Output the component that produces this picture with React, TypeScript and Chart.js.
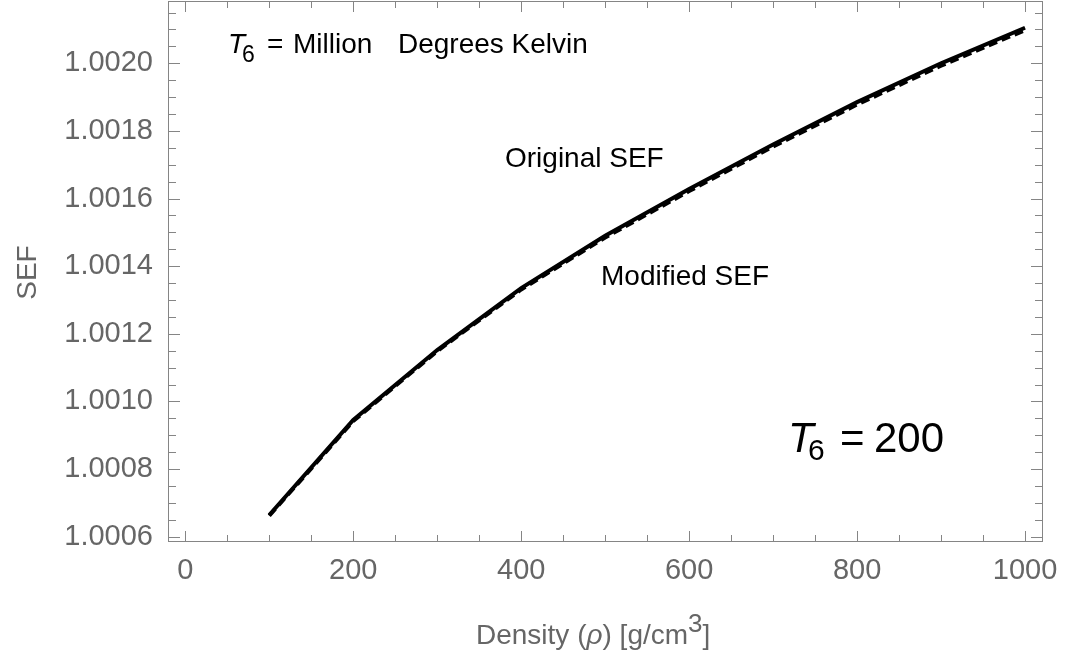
import React, { useEffect, useRef } from "react";
import { Chart, registerables } from "chart.js";

Chart.register(...registerables);

// ---- data ----
const densities = [100, 200, 300, 400, 500, 600, 700, 800, 900, 1000];
const originalSEF = [1.000664, 1.000945, 1.001152, 1.001335, 1.00149, 1.001628, 1.00176, 1.001885, 1.002, 1.002105];
const modifiedSEF = [1.000662, 1.000942, 1.001149, 1.001331, 1.001485, 1.001622, 1.001754, 1.001878, 1.001993, 1.002098];
const xTickValues = [0, 200, 400, 600, 800, 1000];
const yTickValues = [1.0006, 1.0008, 1.001, 1.0012, 1.0014, 1.0016, 1.0018, 1.002];
const xMinorStep = 50;
const yMinorStep = 0.00005;
const xMin = -20.6;
const xMax = 1021.4;
const yMin = 1.0005843;
const yMax = 1.0021842;

const FONT = '"Liberation Sans", Arial, Helvetica, sans-serif';
const FRAME = "#858585";
const LABEL = "#666666";

type Seg = { text: string; font: string; dy?: number; x?: number };

function drawChain(ctx: CanvasRenderingContext2D, segs: Seg[], x0: number, y0: number, color: string) {
  let x = x0;
  ctx.fillStyle = color;
  ctx.textAlign = "left";
  ctx.textBaseline = "alphabetic";
  for (const s of segs) {
    ctx.font = s.font;
    if (s.x !== undefined) x = s.x;
    ctx.fillText(s.text, x, y0 + (s.dy || 0));
    x += ctx.measureText(s.text).width;
  }
}

const framePlugin = {
  id: "framePlugin",
  afterDraw(chart: any) {
    const { ctx, chartArea: a, scales } = chart;
    const xs = scales.x;
    const ys = scales.y;
    ctx.save();
    // frame
    ctx.strokeStyle = FRAME;
    ctx.lineWidth = 1;
    ctx.strokeRect(a.left + 0.5, a.top + 0.5, a.right - a.left - 1, a.bottom - a.top - 1);
    ctx.beginPath();
    // x ticks (inward, bottom and top)
    const nx = Math.round((xTickValues[xTickValues.length - 1] - xTickValues[0]) / xMinorStep);
    for (let i = 0; i <= nx; i++) {
      const v = xTickValues[0] + i * xMinorStep;
      const px = Math.round(xs.getPixelForValue(v)) + 0.5;
      const len = i % 4 === 0 ? 10 : 6;
      ctx.moveTo(px, a.bottom - 1);
      ctx.lineTo(px, a.bottom - 1 - len);
      ctx.moveTo(px, a.top + 1);
      ctx.lineTo(px, a.top + 1 + len);
    }
    // y ticks (inward, left and right)
    for (let i = 0; ; i++) {
      const v = yTickValues[0] + i * yMinorStep;
      if (v > yMax) break;
      const py = Math.round(ys.getPixelForValue(v)) + 0.5;
      const len = i % 4 === 0 ? 11 : 7;
      ctx.moveTo(a.left + 1, py);
      ctx.lineTo(a.left + 1 + len, py);
      ctx.moveTo(a.right - 1, py);
      ctx.lineTo(a.right - 1 - len, py);
    }
    ctx.stroke();

    // axis titles
    const f28 = `28px ${FONT}`;
    const i28 = `italic 28px ${FONT}`;
    drawChain(
      ctx,
      [
        { text: "Density (", font: f28 },
        { text: "ρ", font: i28 },
        { text: ") [g/cm", font: f28 },
        { text: "3", font: `26px ${FONT}`, dy: -12 },
        { text: "]", font: f28 },
      ],
      476,
      644,
      LABEL
    );
    ctx.save();
    ctx.translate(36, 272.5);
    ctx.rotate(-Math.PI / 2);
    ctx.font = f28;
    ctx.fillStyle = LABEL;
    ctx.textAlign = "center";
    ctx.textBaseline = "alphabetic";
    ctx.fillText("SEF", 0, 0);
    ctx.restore();

    // annotations
    drawChain(
      ctx,
      [
        { text: "T", font: i28, x: 228 },
        { text: "6", font: `23px ${FONT}`, dy: 9, x: 242 },
        { text: "=", font: f28, x: 267 },
        { text: "Million", font: f28, x: 293 },
        { text: "Degrees Kelvin", font: f28, x: 398 },
      ],
      0,
      53,
      "#000"
    );
    drawChain(ctx, [{ text: "Original SEF", font: f28 }], 505, 167, "#000");
    drawChain(ctx, [{ text: "Modified SEF", font: f28 }], 601, 285, "#000");
    drawChain(
      ctx,
      [
        { text: "T", font: `italic 42px ${FONT}`, x: 788 },
        { text: "6", font: `30px ${FONT}`, dy: 8, x: 808 },
        { text: "=", font: `42px ${FONT}`, x: 840 },
        { text: "200", font: `42px ${FONT}`, x: 874 },
      ],
      0,
      452,
      "#000"
    );
    ctx.restore();
  },
};

export default function App() {
  const ref = useRef<HTMLCanvasElement | null>(null);
  useEffect(() => {
    if (!ref.current) return;
    const chart = new Chart(ref.current, {
      type: "line",
      data: {
        datasets: [
          {
            label: "Modified SEF",
            data: densities.map((d, i) => ({ x: d, y: modifiedSEF[i] })),
            borderColor: "#000",
            borderWidth: 4,
            borderDash: [9, 5],
            pointRadius: 0,
            fill: false,
            tension: 0,
          },
          {
            label: "Original SEF",
            data: densities.map((d, i) => ({ x: d, y: originalSEF[i] })),
            borderColor: "#000",
            borderWidth: 4,
            pointRadius: 0,
            fill: false,
            tension: 0,
          },
        ],
      },
      options: {
        responsive: false,
        animation: false,
        events: [],
        layout: { padding: { top: 1, right: 26, left: 0, bottom: 0 } },
        plugins: { legend: { display: false }, tooltip: { enabled: false }, title: { display: false } },
        scales: {
          x: {
            type: "linear",
            min: xMin,
            max: xMax,
            grid: { display: false, drawTicks: false },
            border: { display: false },
            afterBuildTicks: (s: any) => {
              s.ticks = xTickValues.map((v) => ({ value: v }));
            },
            afterFit: (s: any) => {
              s.height = 115;
              s.paddingLeft = 0;
              s.paddingRight = 0;
              s.paddingTop = 0;
              s.paddingBottom = 0;
            },
            ticks: {
              padding: 12,
              color: LABEL,
              font: { family: FONT, size: 29 },
              maxRotation: 0,
              autoSkip: false,
              callback: (v: any) => String(v),
            },
          },
          y: {
            type: "linear",
            min: yMin,
            max: yMax,
            grid: { display: false, drawTicks: false },
            border: { display: false },
            afterBuildTicks: (s: any) => {
              s.ticks = yTickValues.map((v) => ({ value: v }));
            },
            afterFit: (s: any) => {
              s.width = 168;
              s.paddingLeft = 0;
              s.paddingRight = 0;
              s.paddingTop = 0;
              s.paddingBottom = 0;
            },
            ticks: {
              padding: 15,
              color: LABEL,
              font: { family: FONT, size: 29 },
              autoSkip: false,
              callback: (v: any) => Number(v).toFixed(4),
            },
          },
        },
      },
      plugins: [framePlugin],
    });
    return () => chart.destroy();
  }, []);
  return (
    <div style={{ position: "absolute", left: 0, top: 0, width: 1069, height: 657, background: "#fff" }}>
      <canvas ref={ref} width={1069} height={657} style={{ display: "block" }} />
    </div>
  );
}
